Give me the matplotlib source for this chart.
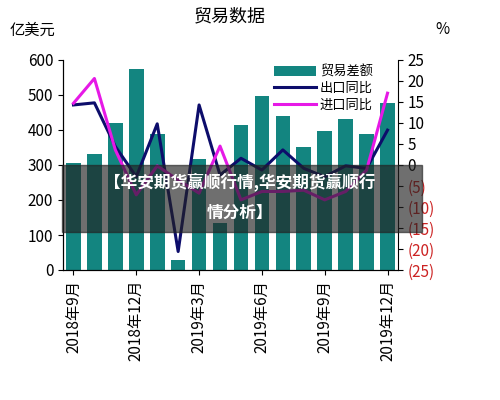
import matplotlib
matplotlib.use("Agg")
import matplotlib.pyplot as plt
import numpy as np

plt.rcParams['font.family'] = ['Noto Sans CJK SC', 'DejaVu Sans']

months = ["2018年9月","2018年10月","2018年11月","2018年12月","2019年1月","2019年2月","2019年3月","2019年4月",
          "2019年5月","2019年6月","2019年7月","2019年8月","2019年9月","2019年10月","2019年11月","2019年12月"]
balance = [305, 331, 419, 573, 388, 30, 316, 135, 414, 497, 441, 350, 398, 430, 388, 476]
export_yoy = [14.3, 14.8, 4.4, -2.8, 9.8, -20.6, 14.3, -2.4, 1.6, -1.2, 3.6, -0.8, -2.8, -0.2, -0.8, 8.3]
import_yoy = [14.7, 20.6, 3.6, -7.1, -0.2, -3.6, -6.7, 4.5, -8.3, -6.3, -6.3, -6.0, -8.3, -6.3, -1.2, 17.1]

fig = plt.figure(figsize=(5, 4), dpi=100)
ax = fig.add_axes([0.126, 0.325, 0.67, 0.525])
x = np.arange(len(months))
ax.bar(x, balance, width=0.7, color='#138580', label='贸易差额')
ax.set_ylim(0, 600)
ax.set_xlim(-0.5, len(months) - 0.5)
ax.set_yticks(range(0, 601, 100))
ax.set_xticks(x[::3])
ax.set_xticklabels(months[::3], rotation=90, fontsize=10)
ax.tick_params(labelsize=11)
for s in ['top', 'right']:
    ax.spines[s].set_visible(False)

ax2 = ax.twinx()
ax2.plot(x, export_yoy, color='#0d0d6b', lw=2.2, label='出口同比')
ax2.plot(x, import_yoy, color='#e619e6', lw=2.2, label='进口同比')
ax2.set_ylim(-25, 25)
ticks = list(range(-25, 26, 5))
ax2.set_yticks(ticks)
ax2.set_yticklabels([str(t) if t >= 0 else f"({-t})" for t in ticks], fontsize=11)
for lbl, t in zip(ax2.get_yticklabels(), ticks):
    if t < 0:
        lbl.set_color('#cc2222')
ax2.spines['top'].set_visible(False)

h1, l1 = ax.get_legend_handles_labels()
h2, l2 = ax2.get_legend_handles_labels()
ax2.legend(h1 + h2, l1 + l2, loc='upper right', bbox_to_anchor=(0.96, 1.03), frameon=False,
           fontsize=9.5, handlelength=3.2, handletextpad=0.3, labelspacing=0.25)

fig.text(0.46, 0.96, '贸易数据', ha='center', va='center', fontsize=13)
fig.text(0.02, 0.925, '亿美元', ha='left', va='center', fontsize=11)
fig.text(0.885, 0.925, '%', ha='center', va='center', fontsize=11)

fig.patches.append(plt.Rectangle((0.124, 0.42), 0.72, 0.167, transform=fig.transFigure,
                                 color='#222222', alpha=0.65, zorder=10))
fig.text(0.48, 0.545, '【华安期货赢顺行情,华安期货赢顺行', ha='center', va='center',
         fontsize=12, color='white', fontweight='bold', zorder=11)
fig.text(0.48, 0.468, '情分析】', ha='center', va='center',
         fontsize=12, color='white', fontweight='bold', zorder=11)

fig.savefig('out.png', dpi=100)
